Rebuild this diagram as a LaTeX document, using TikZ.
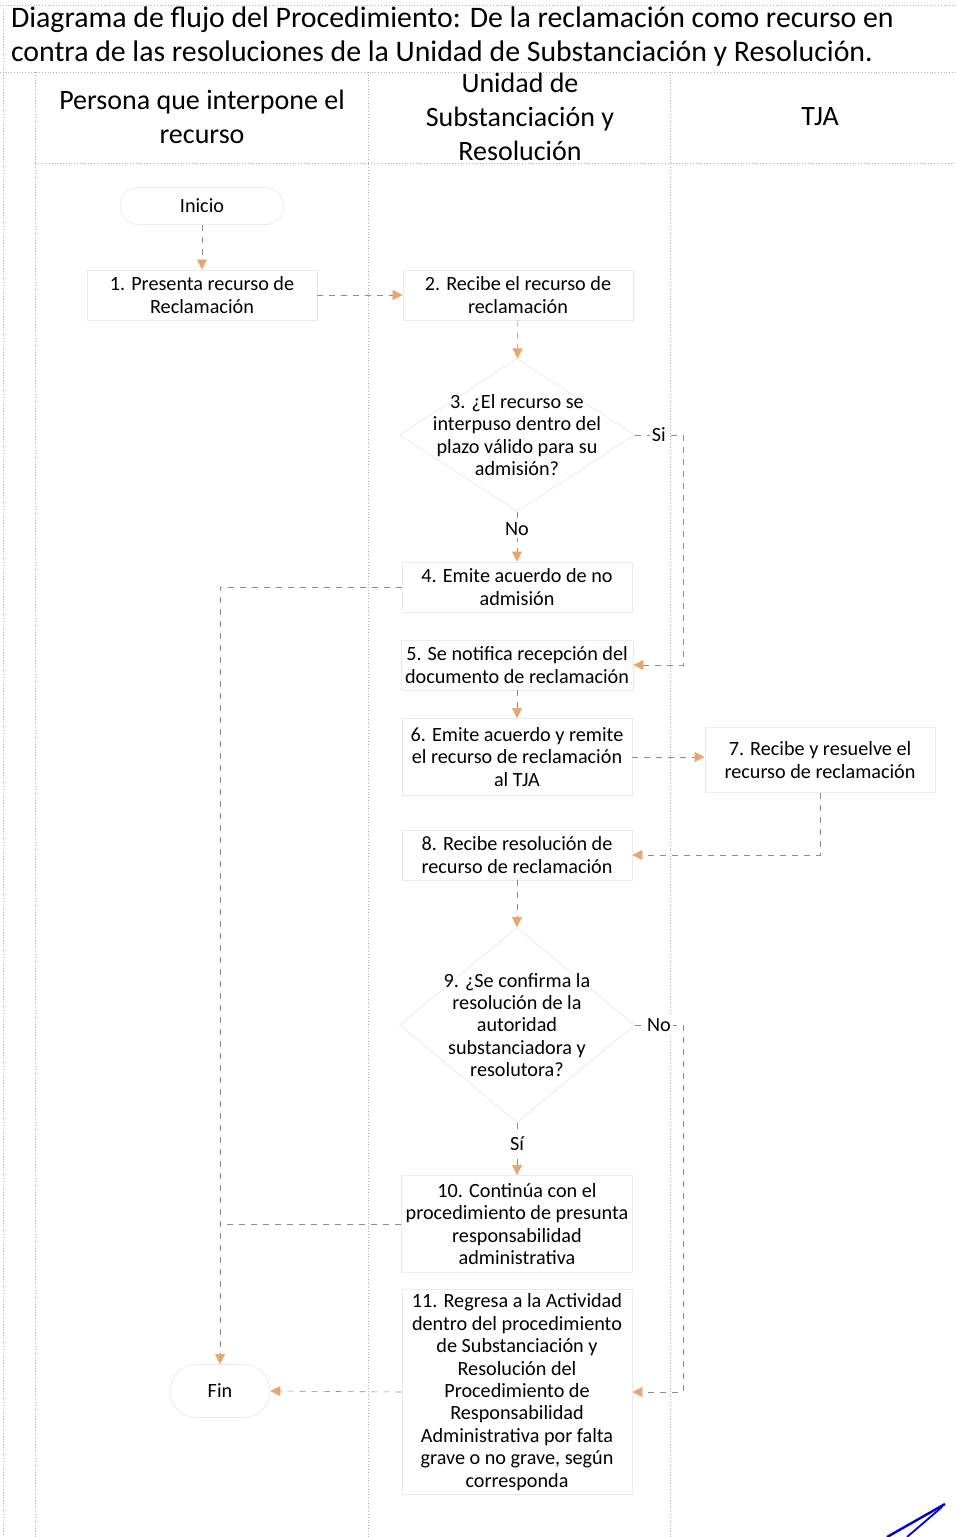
\documentclass[tikz,border=0pt]{standalone}
\usepackage{fontspec}
\setmainfont{Carlito}
\usepackage{tikz}
\usetikzlibrary{positioning,shapes.geometric,arrows.meta}

\definecolor{flechac}{RGB}{232,165,110}

\begin{document}
\begin{tikzpicture}[x=0.5pt, y=-0.5pt]
        \tikzstyle{every node}=[font=\fontsize{10.1}{11.2}\selectfont, align=center]
        \tikzstyle{carril}=[draw=black!30, densely dotted]
        \tikzstyle{encab}=[font=\fontsize{14}{17}\selectfont]
        \tikzstyle{paso}=[draw=black!8, minimum width=115pt, minimum height=25pt, inner sep=2pt]
        \tikzstyle{decision}=[diamond, draw=black!8, inner sep=-18pt, minimum width=117.5pt]
        \tikzstyle{limite}=[draw=black!8, inner sep=2pt]
        \tikzstyle{linea}=[draw=black!45, dashed, line width=0.3pt]
        \tikzstyle{flecha}=[linea, -{Triangle[color=flechac, length=5pt, width=5pt]}]
        \tikzstyle{resp}=[fill=white, inner sep=1pt]

        \useasboundingbox (0,0) rectangle (956,1537);

        \draw[carril] (0,5) -- (956,5);
        \draw[carril] (0,72) -- (956,72);
        \draw[carril] (35,163) -- (956,163);
        \draw[carril] (3,5) -- (3,1537);
        \foreach \x in {35,368,670} \draw[carril] (\x,72) -- (\x,1537);

        \node (titulo) [anchor=west, align=left, font=\fontsize{14.9}{17}\selectfont] at (4,37)
            {Diagrama de flujo del Procedimiento: De la reclamación como recurso en\\contra de las resoluciones de la Unidad de Substanciación y Resolución.};

        \node (c1) [encab] at (202,117) {Persona que interpone el\\recurso};
        \node (c2) [encab] at (520,117) {Unidad de\\Substanciación y\\Resolución};
        \node (c3) [encab] at (820,117) {TJA};

        \node (inicio) [limite, rounded corners=9pt, minimum width=81.5pt, minimum height=18.5pt] at (202,206) {Inicio};
        \node (n1)  [paso] at (202,295) {1. Presenta recurso de\\Reclamación};
        \node (n2)  [paso] at (518,295) {2. Recibe el recurso de\\reclamación};
        \node (d3)  [decision, minimum height=76.5pt] at (517,435)
            {3. ¿El recurso se\\interpuso dentro del\\plazo válido para su\\admisión?};
        \node (n4)  [paso] at (517,587) {4. Emite acuerdo de no\\admisión};
        \node (n5)  [paso] at (517,665) {5. Se notifica recepción del\\documento de reclamación};
        \node (n6)  [paso, minimum height=38.5pt] at (517,757) {6. Emite acuerdo y remite\\el recurso de reclamación\\al TJA};
        \node (n7)  [paso, minimum height=32.5pt] at (820,760) {7. Recibe y resuelve el\\recurso de reclamación};
        \node (n8)  [paso] at (517,855) {8. Recibe resolución de\\recurso de reclamación};
        \node (d9)  [decision, minimum height=97.5pt] at (517,1025)
            {9. ¿Se confirma la\\resolución de la\\autoridad\\substanciadora y\\resolutora?};
        \node (n10) [paso, minimum height=48.5pt] at (517,1224)
            {10. Continúa con el\\procedimiento de presunta\\responsabilidad\\administrativa};
        \node (n11) [paso, minimum height=102.5pt] at (517,1392)
            {11. Regresa a la Actividad\\dentro del procedimiento\\de Substanciación y\\Resolución del\\Procedimiento de\\Responsabilidad\\Administrativa por falta\\grave o no grave, según\\corresponda};
        \node (fin) [limite, rounded corners=13pt, minimum width=50pt, minimum height=26.5pt] at (220,1391) {Fin};

        \draw[flecha] (inicio) -- (n1);
        \draw[flecha] (n1) -- (n2);
        \draw[flecha] (n2) -- (d3);
        \draw[flecha] (d3.east) -- node[resp] {Si} ++(48,0) |- (n5.east);
        \draw[flecha] (d3.south) -- node[resp, pos=0.35] {No} (n4.north);
        \draw[flecha] (n4.west) -| (fin.north);
        \draw[flecha] (n5) -- (n6);
        \draw[flecha] (n6) -- (n6 -| n7.west);
        \draw[flecha] (n7.south) |- (n8.east);
        \draw[flecha] (n8) -- (d9);
        \draw[flecha] (d9.east) -- node[resp] {No} ++(48,0) |- (n11.east);
        \draw[flecha] (d9.south) -- node[resp, pos=0.4] {Sí} (n10.north);
        \draw[linea] (n10.west) -- (n10.west -| fin.north);
        \draw[flecha] (n11.west) -- (fin.east);

        \draw[blue!80!black, line width=1.2pt] (945,1504) -- (887,1537);
        \draw[blue!80!black, line width=0.9pt] (942,1507) -- (907,1537);

    \end{tikzpicture}
\end{document}
